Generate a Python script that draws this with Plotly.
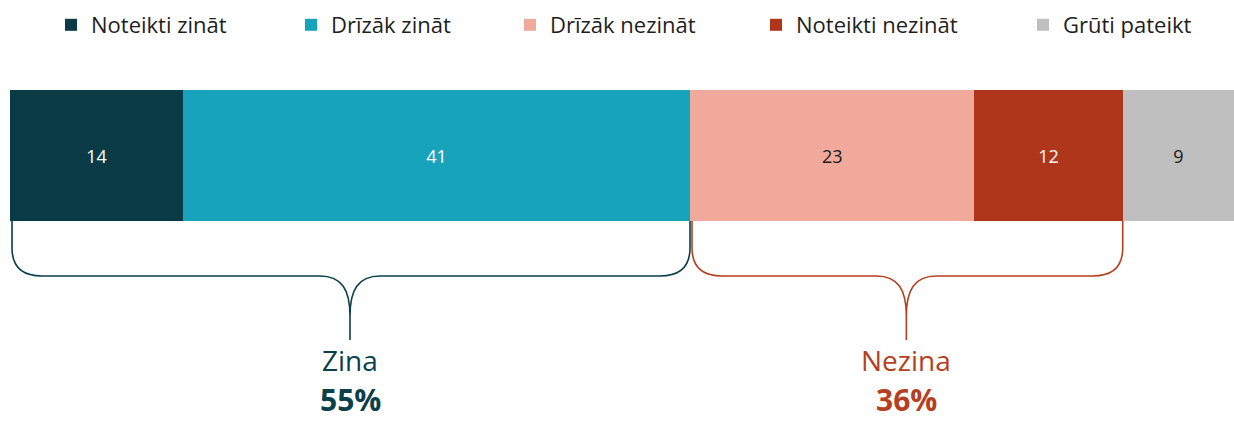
import plotly.graph_objects as go

# ---- data ----
categories = ["Noteikti zināt", "Drīzāk zināt", "Drīzāk nezināt", "Noteikti nezināt", "Grūti pateikt"]
values = [14, 41, 23, 12, 9]
colors = ["#0a3a45", "#16a3bb", "#f0a99a", "#b0361b", "#bfbfbf"]
label_colors = ["#ffffff", "#ffffff", "#1a1a1a", "#ffffff", "#1a1a1a"]
group_names = ["Zina", "Nezina"]
group_members = [[0, 1], [2, 3]]
group_totals = [55, 36]
group_colors = ["#0b3f4a", "#b5401f"]

W, H = 1234, 421
ML, MR, MT, MB = 10, 0, 90, 0
PW, PH = W - ML - MR, H - MT - MB
total = sum(values)

def px_x(p):
    return (p - ML) / PW * total

def px_y(p):
    return H - MB - p

def x_px(v):
    return ML + v / total * PW

fig = go.Figure()
legend_x_px = [51, 291, 510, 756, 1023]
for i, (c, v) in enumerate(zip(categories, values)):
    lname = "legend" if i == 0 else f"legend{i+1}"
    fig.add_trace(go.Bar(
        x=[v], y=[px_y(155.5)], orientation="h", name=c,
        width=131, marker=dict(color=colors[i], line=dict(width=0)),
        text=[v], texttemplate="%{x}", textposition="inside",
        insidetextanchor="middle",
        textfont=dict(color=label_colors[i], size=18, family="Open Sans"),
        legend=lname, hoverinfo="skip",
    ))

layout_legends = {}
for i in range(len(categories)):
    lname = "legend" if i == 0 else f"legend{i+1}"
    layout_legends[lname] = dict(
        x=(legend_x_px[i] - ML) / PW, xanchor="left",
        y=(H - MB - 25) / PH, yanchor="middle",
        orientation="h", bgcolor="rgba(0,0,0,0)",
        font=dict(size=22, family="Open Sans", color="#1e1e1e"),
        itemclick=False, itemdoubleclick=False,
    )

# braces
shapes = []
annotations = []
cum = [0]
for v in values:
    cum.append(cum[-1] + v)
top, hy, tip_y, end_y = 221, 276, 316, 340
for g, members in enumerate(group_members):
    x0 = x_px(cum[members[0]]) + 2
    x1 = x_px(cum[members[-1] + 1])
    xm = (x_px(cum[members[0]]) + x1) / 2
    col = group_colors[g]
    def P(px, py):
        return f"{px_x(px):.4f},{px_y(py):.2f}"
    path = (
        f"M {P(x0, top)} L {P(x0, 248)} Q {P(x0, hy)} {P(x0 + 30, hy)} "
        f"L {P(xm - 30, hy)} C {P(xm - 8, hy)} {P(xm, hy + 14)} {P(xm, tip_y)} "
        f"L {P(xm, end_y)} M {P(xm, tip_y)} C {P(xm, hy + 14)} {P(xm + 8, hy)} {P(xm + 30, hy)} "
        f"L {P(x1 - 30, hy)} Q {P(x1, hy)} {P(x1, 248)} L {P(x1, top)}"
    )
    shapes.append(dict(type="path", path=path, xref="x", yref="y",
                       line=dict(color=col, width=1.6)))
    annotations.append(dict(x=px_x(xm), y=px_y(360), xref="x", yref="y",
                            text=group_names[g], showarrow=False,
                            font=dict(size=28, family="Open Sans", color=col)))
    annotations.append(dict(x=px_x(xm), y=px_y(399), xref="x", yref="y",
                            text=f"<b>{group_totals[g]}%</b>", showarrow=False,
                            font=dict(size=30, family="Open Sans", color=col)))

fig.update_layout(
    width=W, height=H,
    margin=dict(l=ML, r=MR, t=MT, b=MB, pad=0),
    barmode="stack",
    plot_bgcolor="white", paper_bgcolor="white",
    xaxis=dict(range=[0, total], visible=False, fixedrange=True),
    yaxis=dict(range=[0, PH], visible=False, fixedrange=True),
    shapes=shapes, annotations=annotations,
    showlegend=True,
    **layout_legends,
)

fig.write_html("out.html", config={"displayModeBar": False},
               post_script="document.body.style.margin='0px';")
